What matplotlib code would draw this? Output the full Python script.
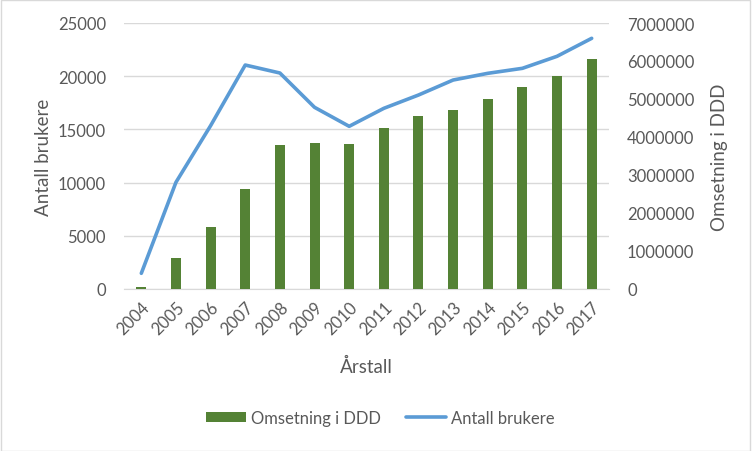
import matplotlib
matplotlib.use("Agg")
import matplotlib.pyplot as plt
from matplotlib.patches import Rectangle

plt.rcParams['font.family'] = ['Lato', 'DejaVu Sans']

years = ['2004', '2005', '2006', '2007', '2008', '2009', '2010',
         '2011', '2012', '2013', '2014', '2015', '2016', '2017']
omsetning_ddd = [60000, 824000, 1640000, 2640000, 3797000, 3850000, 3824000,
                 4245000, 4560000, 4718000, 5008000, 5324000, 5613000, 6061000]
antall_brukere = [1475, 10030, 15350, 21050, 20300, 17075, 15290,
                  16980, 18230, 19640, 20270, 20740, 21870, 23560]
left_ticks = [0, 5000, 10000, 15000, 20000, 25000]
right_ticks = [0, 1000000, 2000000, 3000000, 4000000, 5000000, 6000000, 7000000]

GREEN = '#548235'
BLUE = '#5B9BD5'
TXT = '#595959'
GRID = '#D9D9D9'

fig = plt.figure(figsize=(7.52, 4.52), dpi=100)
pos = [124/752, 1 - 290/452, (609-124)/752, (290-24)/452]
ax = fig.add_axes(pos)
ax2 = ax.twinx()
ax3 = fig.add_axes(pos, sharex=ax, sharey=ax)

x = list(range(len(years)))

# left axis: grid and ticks
ax.set_ylim(0, 25000)
ax.set_yticks(left_ticks)
ax.set_yticklabels([str(t) for t in left_ticks])
ax.grid(axis='y', color=GRID, linewidth=1)
ax.set_axisbelow(True)
ax.set_xlim(-0.5, len(years) - 0.5)
ax.set_xticks(x)
ax.set_xticklabels(years, rotation=45, ha='right', rotation_mode='anchor')
ax.tick_params(axis='both', length=0, colors=TXT, labelsize=12)
ax.tick_params(axis='x', pad=7)
ax.tick_params(axis='y', pad=13)
for s in ['top', 'left', 'right']:
    ax.spines[s].set_visible(False)
ax.spines['bottom'].set_color(GRID)
ax.set_ylabel('Antall brukere', color=TXT, fontsize=13.5, labelpad=4)
ax.set_xlabel('Årstall', color=TXT, fontsize=13.5, labelpad=14)

# right axis: bars
bars = ax2.bar(x, omsetning_ddd, width=0.29, color=GREEN, label='Omsetning i DDD')
ax2.set_ylim(0, 7000000)
ax2.set_yticks(right_ticks)
ax2.set_yticklabels([str(t) for t in right_ticks])
ax2.tick_params(axis='y', length=0, colors=TXT, labelsize=12, pad=13)
for s in ['top', 'left', 'right', 'bottom']:
    ax2.spines[s].set_visible(False)
ax2.set_ylabel('Omsetning i DDD', color=TXT, fontsize=13.5, labelpad=12)

# line on top
line, = ax3.plot(x, antall_brukere, color=BLUE, linewidth=2.6,
                 solid_joinstyle='round', solid_capstyle='round', label='Antall brukere')
ax3.patch.set_visible(False)
ax3.axis('off')

leg = fig.legend([bars, line], ['Omsetning i DDD', 'Antall brukere'],
                 loc='center', bbox_to_anchor=(380/752, 1 - 419/452), ncol=2,
                 frameon=False, fontsize=12, handlelength=2.4, handleheight=0.6,
                 columnspacing=1.5, handletextpad=0.3)
for t in leg.get_texts():
    t.set_color(TXT)

fig.patches.append(Rectangle((0.001, 0.001), 0.997, 0.997, transform=fig.transFigure,
                             fill=False, edgecolor=GRID, linewidth=1))

fig.savefig('out.png', dpi=100)
